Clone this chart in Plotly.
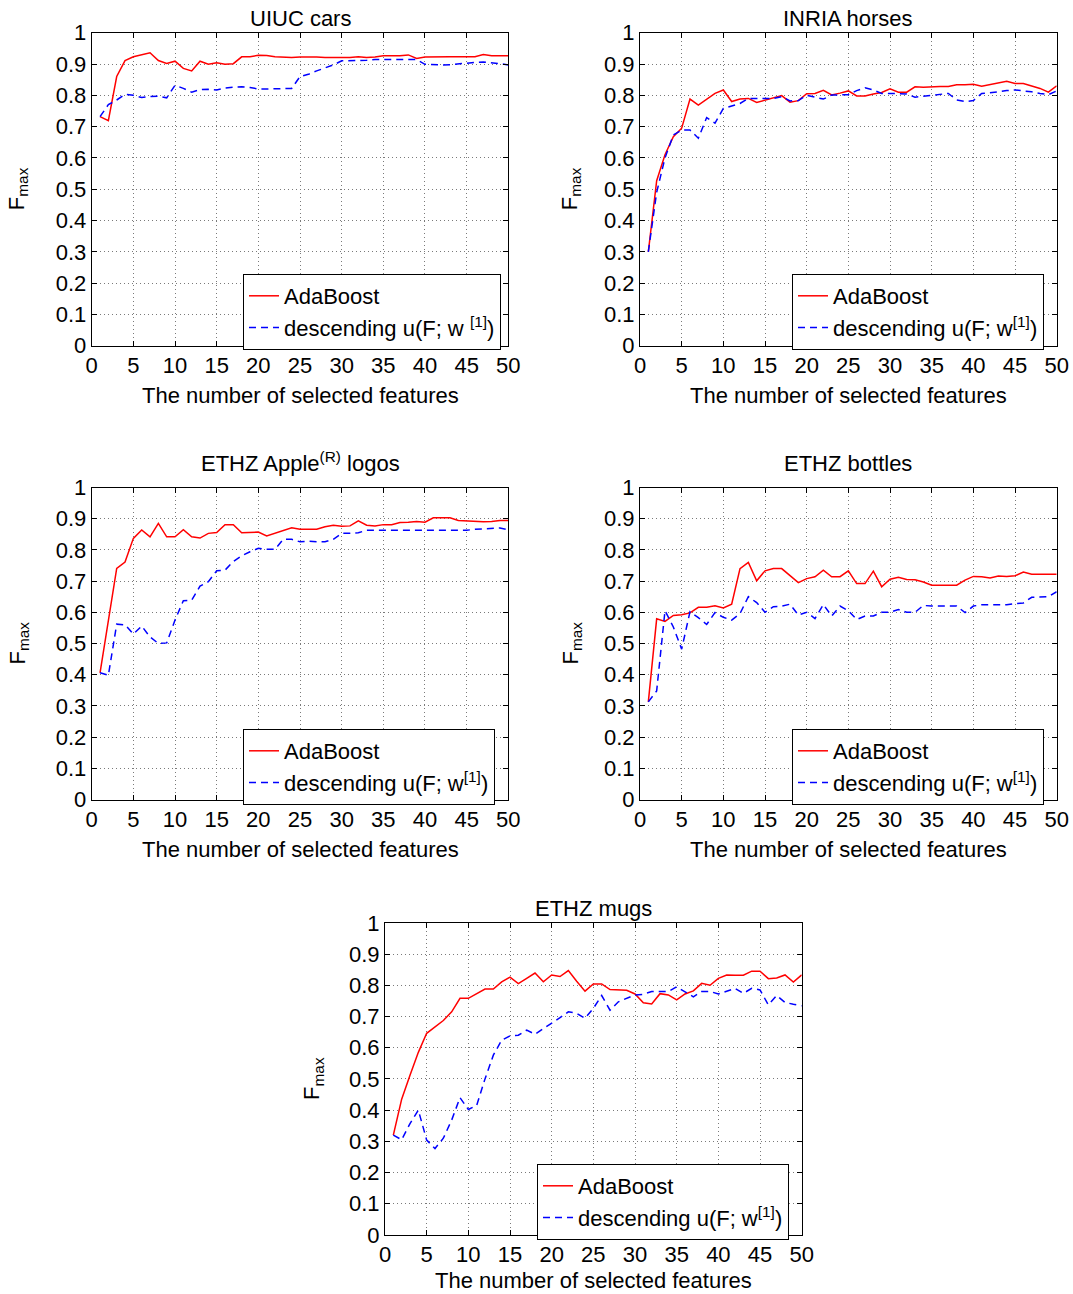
import plotly.graph_objects as go

x_vals = list(range(1, 51))

uiuc_ada = [0.732, 0.719, 0.86, 0.911, 0.923, 0.93, 0.936, 0.911, 0.902, 0.909,
            0.886, 0.878, 0.909, 0.899, 0.904, 0.899, 0.901, 0.923, 0.923, 0.928,
            0.927, 0.923, 0.921, 0.921, 0.922, 0.923, 0.922, 0.921, 0.921, 0.919,
            0.921, 0.923, 0.921, 0.922, 0.926, 0.926, 0.926, 0.929, 0.918, 0.922,
            0.923, 0.923, 0.923, 0.923, 0.923, 0.923, 0.93, 0.926, 0.926, 0.926]
uiuc_desc = [0.732, 0.77, 0.785, 0.803, 0.8, 0.793, 0.796, 0.797, 0.792, 0.832,
             0.822, 0.81, 0.818, 0.819, 0.817, 0.823, 0.826, 0.827, 0.825, 0.82,
             0.82, 0.82, 0.82, 0.822, 0.86, 0.867, 0.878, 0.888, 0.897, 0.91,
             0.91, 0.911, 0.912, 0.914, 0.914, 0.915, 0.915, 0.914, 0.914, 0.899,
             0.897, 0.897, 0.898, 0.901, 0.902, 0.905, 0.906, 0.904, 0.901, 0.897]

inria_ada = [0.3, 0.527, 0.61, 0.668, 0.695, 0.788, 0.769, 0.788, 0.806, 0.817,
             0.78, 0.788, 0.79, 0.777, 0.785, 0.792, 0.799, 0.778, 0.783, 0.805,
             0.806, 0.816, 0.801, 0.807, 0.814, 0.798, 0.798, 0.804, 0.809, 0.821,
             0.81, 0.81, 0.827, 0.826, 0.828, 0.828, 0.828, 0.834, 0.834, 0.835,
             0.829, 0.835, 0.841, 0.845, 0.838, 0.838, 0.83, 0.822, 0.81, 0.83]
inria_desc = [0.3, 0.49, 0.6, 0.673, 0.689, 0.689, 0.663, 0.729, 0.711, 0.758,
              0.766, 0.774, 0.79, 0.79, 0.79, 0.79, 0.796, 0.782, 0.783, 0.8,
              0.794, 0.788, 0.801, 0.801, 0.802, 0.815, 0.824, 0.817, 0.806, 0.806,
              0.804, 0.804, 0.794, 0.797, 0.798, 0.801, 0.806, 0.785, 0.78, 0.783,
              0.806, 0.808, 0.812, 0.815, 0.817, 0.815, 0.811, 0.806, 0.802, 0.814]

apple_ada = [0.406, 0.575, 0.741, 0.761, 0.837, 0.864, 0.842, 0.885, 0.842, 0.842,
             0.865, 0.842, 0.838, 0.853, 0.856, 0.881, 0.881, 0.855, 0.855, 0.857,
             0.845, 0.853, 0.861, 0.871, 0.866, 0.866, 0.866, 0.874, 0.879, 0.876,
             0.877, 0.893, 0.879, 0.877, 0.881, 0.881, 0.888, 0.889, 0.891, 0.889,
             0.903, 0.903, 0.903, 0.894, 0.892, 0.89, 0.89, 0.891, 0.894, 0.894]
apple_desc = [0.406, 0.398, 0.562, 0.56, 0.53, 0.556, 0.521, 0.5, 0.502, 0.575,
              0.637, 0.639, 0.684, 0.698, 0.733, 0.735, 0.763, 0.781, 0.794, 0.805,
              0.802, 0.802, 0.834, 0.834, 0.826, 0.828, 0.826, 0.826, 0.834, 0.853,
              0.853, 0.855, 0.863, 0.863, 0.863, 0.863, 0.863, 0.863, 0.863, 0.863,
              0.863, 0.863, 0.863, 0.863, 0.863, 0.866, 0.868, 0.87, 0.87, 0.864]

bottles_ada = [0.313, 0.579, 0.571, 0.59, 0.592, 0.598, 0.616, 0.616, 0.621, 0.614,
               0.626, 0.74, 0.76, 0.701, 0.733, 0.74, 0.74, 0.716, 0.695, 0.708,
               0.714, 0.735, 0.714, 0.714, 0.733, 0.692, 0.692, 0.732, 0.682, 0.706,
               0.712, 0.705, 0.704, 0.697, 0.687, 0.687, 0.687, 0.687, 0.703, 0.715,
               0.714, 0.71, 0.716, 0.715, 0.717, 0.729, 0.722, 0.722, 0.722, 0.722]
bottles_desc = [0.313, 0.348, 0.605, 0.553, 0.482, 0.602, 0.583, 0.561, 0.599, 0.584,
                0.575, 0.596, 0.65, 0.631, 0.6, 0.618, 0.62, 0.626, 0.591, 0.6,
                0.58, 0.625, 0.588, 0.62, 0.605, 0.577, 0.588, 0.588, 0.6, 0.6,
                0.609, 0.6, 0.6, 0.622, 0.62, 0.62, 0.62, 0.62, 0.599, 0.62,
                0.624, 0.624, 0.624, 0.624, 0.628, 0.63, 0.648, 0.65, 0.65, 0.666]

mugs_ada = [0.32, 0.435, 0.512, 0.585, 0.646, 0.666, 0.687, 0.715, 0.758, 0.758,
            0.774, 0.788, 0.788, 0.811, 0.826, 0.805, 0.822, 0.839, 0.811, 0.833,
            0.828, 0.847, 0.813, 0.781, 0.804, 0.804, 0.786, 0.784, 0.784, 0.772,
            0.744, 0.74, 0.773, 0.769, 0.753, 0.772, 0.782, 0.806, 0.8, 0.822,
            0.833, 0.832, 0.832, 0.845, 0.845, 0.821, 0.823, 0.833, 0.81, 0.833]
mugs_desc = [0.32, 0.305, 0.357, 0.4, 0.304, 0.277, 0.31, 0.368, 0.44, 0.402,
             0.415, 0.5, 0.576, 0.624, 0.638, 0.64, 0.656, 0.643, 0.661, 0.678,
             0.696, 0.715, 0.71, 0.694, 0.726, 0.767, 0.72, 0.747, 0.758, 0.769,
             0.771, 0.78, 0.78, 0.78, 0.795, 0.78, 0.763, 0.78, 0.78, 0.772,
             0.78, 0.79, 0.774, 0.79, 0.785, 0.737, 0.767, 0.745, 0.739, 0.734]

titles = ["UIUC cars", "INRIA horses", "ETHZ Apple<sup>(R)</sup> logos",
          "ETHZ bottles", "ETHZ mugs"]
ada_series = [uiuc_ada, inria_ada, apple_ada, bottles_ada, mugs_ada]
desc_series = [uiuc_desc, inria_desc, apple_desc, bottles_desc, mugs_desc]
desc_names = ["descending u(F; w <sup>[1]</sup>)"] + ["descending u(F; w<sup>[1]</sup>)"] * 4
x_title = "The number of selected features"
y_title = "F<sub>max</sub>"

W, H = 1073, 1294
# plot boxes in pixels: (left, right, top, bottom)
boxes = [(91.7, 508.3, 32.7, 345.7),
         (640.0, 1056.7, 32.7, 345.7),
         (91.7, 508.3, 487.5, 799.5),
         (640.0, 1056.7, 487.5, 799.5),
         (385.0, 801.7, 922.8, 1235.0)]
# legend top-left corners in pixels
legend_pos = [(243, 274), (792, 274), (243, 729), (792, 729), (537, 1164)]
# text centres in pixels
title_y = [18, 18, 462, 464, 908]
xtitle_y = [396, 396, 850, 850, 1280]
ytitle_x = [18, 571, 18, 571, 313]

FONT = "Liberation Sans, Arial, Helvetica, sans-serif"
FS = 22

fig = go.Figure()
layout = dict(width=W, height=H,
              margin=dict(l=0, r=0, t=0, b=0, pad=0, autoexpand=False),
              paper_bgcolor="white", plot_bgcolor="white",
              font=dict(family=FONT, size=FS, color="black"),
              annotations=[])

for i in range(5):
    k = "" if i == 0 else str(i + 1)
    leg = "legend" if i == 0 else "legend" + str(i + 1)
    l, r, t, b = boxes[i]
    axcommon = dict(showline=True, linecolor="black", linewidth=1, mirror="ticks",
                    ticks="inside", ticklen=5, tickcolor="black", tickwidth=1,
                    showgrid=True, gridcolor="#7a7a7a", griddash="1px,3px", gridwidth=1,
                    zeroline=False, fixedrange=True, automargin=False,
                    tickfont=dict(family=FONT, size=FS, color="black"))
    layout["xaxis" + k] = dict(domain=[l / W, r / W], range=[0, 50], dtick=5, tick0=0,
                               anchor="y" + k, **axcommon)
    layout["yaxis" + k] = dict(domain=[1 - b / H, 1 - t / H], range=[0, 1], dtick=0.1, tick0=0,
                               anchor="x" + k, **axcommon)
    lx, ly = legend_pos[i]
    layout[leg] = dict(x=lx / W, y=1 - ly / H, xanchor="left", yanchor="top",
                       bgcolor="white", bordercolor="black", borderwidth=1,
                       font=dict(family=FONT, size=FS, color="black"),
                       itemwidth=30, tracegroupgap=0, traceorder="normal")
    fig.add_trace(go.Scatter(x=x_vals, y=ada_series[i], mode="lines", name="AdaBoost",
                             line=dict(color="#ff0000", width=1.5),
                             xaxis="x" + k, yaxis="y" + k, legend=leg))
    fig.add_trace(go.Scatter(x=x_vals, y=desc_series[i], mode="lines", name=desc_names[i],
                             line=dict(color="#0000ff", width=1.5, dash="7px,5px"),
                             xaxis="x" + k, yaxis="y" + k, legend=leg))
    cx = (l + r) / 2 / W
    cy = 1 - (t + b) / 2 / H
    layout["annotations"].append(dict(text=titles[i], x=cx, y=1 - title_y[i] / H,
                                      xref="paper", yref="paper", xanchor="center",
                                      yanchor="middle", showarrow=False,
                                      font=dict(family=FONT, size=FS)))
    layout["annotations"].append(dict(text=x_title, x=cx, y=1 - xtitle_y[i] / H,
                                      xref="paper", yref="paper", xanchor="center",
                                      yanchor="middle", showarrow=False,
                                      font=dict(family=FONT, size=FS)))
    layout["annotations"].append(dict(text=y_title, x=ytitle_x[i] / W, y=cy,
                                      xref="paper", yref="paper", xanchor="center",
                                      yanchor="middle", showarrow=False, textangle=-90,
                                      font=dict(family=FONT, size=FS)))

fig.update_layout(**layout)
fig.write_html("out.html",
               config={"displayModeBar": False},
               post_script="document.body.style.margin='0';document.body.style.padding='0';"
                           "document.documentElement.style.overflow='hidden';")
